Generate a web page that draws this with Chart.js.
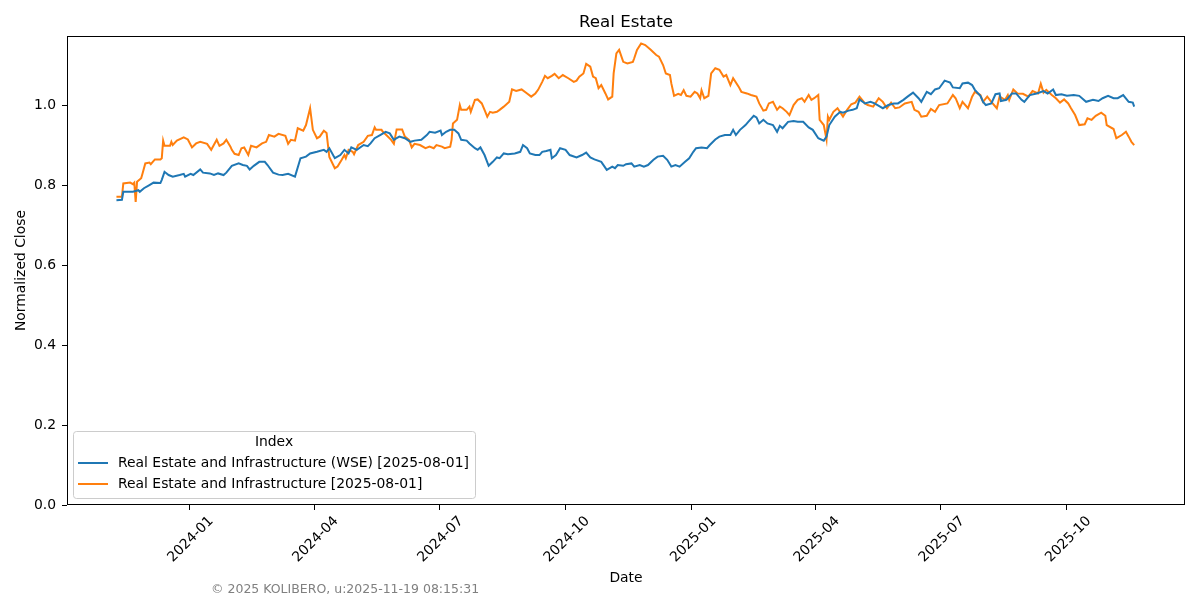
<!DOCTYPE html>
<html lang="en">
<head>
<meta charset="UTF-8">
<title>Real Estate</title>
<script src="https://cdn.jsdelivr.net/npm/chart.js"></script>
<style>
  html, body { margin: 0; padding: 0; background: #fff; }
  canvas { display: block; }
</style>
</head>
<body>
<canvas id="chart" width="1200" height="600"></canvas>
<script>
const wseLabel = 'Real Estate and Infrastructure (WSE) [2025-08-01]';
const reiLabel = 'Real Estate and Infrastructure [2025-08-01]';

const wseDates = [
  '2023-11-09','2023-11-13','2023-11-14','2023-11-21','2023-11-25','2023-11-26','2023-11-29','2023-12-03','2023-12-06','2023-12-11',
  '2023-12-12','2023-12-14','2023-12-17','2023-12-20','2023-12-25','2023-12-28','2023-12-29','2024-01-02','2024-01-04','2024-01-09',
  '2024-01-11','2024-01-16','2024-01-19','2024-01-22','2024-01-26','2024-01-28','2024-02-01','2024-02-06','2024-02-09','2024-02-12',
  '2024-02-14','2024-02-17','2024-02-21','2024-02-25','2024-02-27','2024-03-02','2024-03-06','2024-03-09','2024-03-13','2024-03-18',
  '2024-03-22','2024-03-26','2024-03-29','2024-04-03','2024-04-08','2024-04-10','2024-04-12','2024-04-16','2024-04-20','2024-04-23',
  '2024-04-26','2024-04-28','2024-05-02','2024-05-07','2024-05-10','2024-05-12','2024-05-15','2024-05-19','2024-05-23','2024-05-26',
  '2024-05-29','2024-05-31','2024-06-02','2024-06-06','2024-06-10','2024-06-13','2024-06-18','2024-06-22','2024-06-24','2024-06-28',
  '2024-07-02','2024-07-03','2024-07-06','2024-07-09','2024-07-12','2024-07-15','2024-07-17','2024-07-21','2024-07-23','2024-07-27',
  '2024-07-29','2024-07-31','2024-08-03','2024-08-06','2024-08-09','2024-08-12','2024-08-14','2024-08-17','2024-08-20','2024-08-25',
  '2024-08-29','2024-08-31','2024-09-03','2024-09-05','2024-09-09','2024-09-12','2024-09-14','2024-09-17','2024-09-20','2024-09-21',
  '2024-09-24','2024-09-27','2024-10-01','2024-10-04','2024-10-09','2024-10-13','2024-10-16','2024-10-19','2024-10-22','2024-10-27',
  '2024-10-31','2024-11-04','2024-11-06','2024-11-08','2024-11-12','2024-11-14','2024-11-18','2024-11-20','2024-11-24','2024-11-27',
  '2024-11-30','2024-12-04','2024-12-07','2024-12-11','2024-12-14','2024-12-17','2024-12-20','2024-12-23','2024-12-27','2024-12-30',
  '2025-01-02','2025-01-04','2025-01-08','2025-01-12','2025-01-14','2025-01-18','2025-01-21','2025-01-25','2025-01-29','2025-01-31',
  '2025-02-02','2025-02-05','2025-02-09','2025-02-11','2025-02-15','2025-02-17','2025-02-19','2025-02-22','2025-02-25','2025-03-01',
  '2025-03-04','2025-03-06','2025-03-08','2025-03-12','2025-03-16','2025-03-19','2025-03-23','2025-03-27','2025-03-30','2025-04-03',
  '2025-04-07','2025-04-09','2025-04-11','2025-04-15','2025-04-19','2025-04-21','2025-04-25','2025-04-28','2025-05-01','2025-05-03',
  '2025-05-07','2025-05-11','2025-05-14','2025-05-18','2025-05-20','2025-05-24','2025-05-28','2025-05-31','2025-06-04','2025-06-07',
  '2025-06-11','2025-06-15','2025-06-17','2025-06-21','2025-06-24','2025-06-27','2025-06-30','2025-07-04','2025-07-08','2025-07-10',
  '2025-07-15','2025-07-17','2025-07-21','2025-07-24','2025-07-26','2025-07-30','2025-08-01','2025-08-03','2025-08-07','2025-08-10',
  '2025-08-13','2025-08-14','2025-08-18','2025-08-22','2025-08-25','2025-08-29','2025-08-31','2025-09-04','2025-09-09','2025-09-14',
  '2025-09-17','2025-09-21','2025-09-23','2025-09-27','2025-10-01','2025-10-06','2025-10-10','2025-10-15','2025-10-20','2025-10-24',
  '2025-10-27','2025-10-31','2025-11-04','2025-11-07','2025-11-11','2025-11-15','2025-11-18','2025-11-19'
];
const wseValues = [
  0.762,0.763,0.783,0.783,0.787,0.783,0.792,0.800,0.806,0.805,
  0.813,0.833,0.825,0.821,0.825,0.828,0.821,0.828,0.825,0.839,
  0.831,0.829,0.825,0.829,0.825,0.831,0.848,0.854,0.850,0.848,
  0.839,0.848,0.858,0.858,0.850,0.831,0.826,0.825,0.828,0.821,
  0.867,0.871,0.879,0.883,0.888,0.883,0.892,0.867,0.875,0.888,
  0.879,0.894,0.888,0.900,0.897,0.904,0.917,0.925,0.933,0.929,
  0.913,0.917,0.921,0.917,0.908,0.911,0.913,0.925,0.933,0.931,
  0.936,0.925,0.933,0.938,0.938,0.929,0.913,0.911,0.904,0.892,
  0.888,0.894,0.875,0.848,0.858,0.869,0.867,0.879,0.877,0.879,
  0.883,0.900,0.892,0.879,0.875,0.875,0.883,0.885,0.888,0.867,
  0.875,0.892,0.888,0.875,0.869,0.875,0.881,0.869,0.864,0.858,
  0.838,0.846,0.842,0.850,0.848,0.852,0.854,0.846,0.850,0.846,
  0.850,0.863,0.871,0.873,0.863,0.846,0.850,0.846,0.858,0.867,
  0.883,0.892,0.894,0.892,0.900,0.914,0.921,0.925,0.925,0.938,
  0.925,0.938,0.950,0.958,0.973,0.969,0.954,0.963,0.954,0.950,
  0.933,0.948,0.942,0.958,0.960,0.958,0.958,0.944,0.938,0.917,
  0.911,0.921,0.950,0.971,0.983,0.981,0.986,0.988,0.992,1.014,
  1.004,1.008,1.004,0.996,0.992,1.000,1.004,1.004,1.013,1.021,
  1.031,1.017,1.008,1.033,1.027,1.039,1.042,1.061,1.056,1.044,
  1.042,1.054,1.056,1.050,1.038,1.023,1.008,1.000,1.004,1.027,
  1.029,1.010,1.013,1.029,1.029,1.013,1.008,1.025,1.029,1.035,
  1.029,1.039,1.025,1.027,1.023,1.025,1.023,1.008,1.013,1.010,
  1.017,1.023,1.017,1.017,1.025,1.008,1.006,0.996
];

const reiDates = [
  '2023-11-09','2023-11-13','2023-11-14','2023-11-19','2023-11-21','2023-11-22','2023-11-23','2023-11-24','2023-11-27','2023-11-28',
  '2023-11-30','2023-12-03','2023-12-04','2023-12-07','2023-12-11','2023-12-12','2023-12-13','2023-12-14','2023-12-18','2023-12-19',
  '2023-12-20','2023-12-23','2023-12-28','2023-12-31','2024-01-03','2024-01-06','2024-01-09','2024-01-14','2024-01-17','2024-01-21',
  '2024-01-23','2024-01-26','2024-01-28','2024-01-31','2024-02-01','2024-02-03','2024-02-06','2024-02-08','2024-02-10','2024-02-13',
  '2024-02-15','2024-02-19','2024-02-23','2024-02-26','2024-02-28','2024-03-03','2024-03-06','2024-03-11','2024-03-13','2024-03-15',
  '2024-03-18','2024-03-20','2024-03-24','2024-03-26','2024-03-29','2024-03-31','2024-04-03','2024-04-05','2024-04-08','2024-04-10',
  '2024-04-12','2024-04-16','2024-04-18','2024-04-21','2024-04-23','2024-04-24','2024-04-26','2024-04-29','2024-04-30','2024-05-03',
  '2024-05-07','2024-05-10','2024-05-13','2024-05-15','2024-05-16','2024-05-20','2024-05-21','2024-05-24','2024-05-27','2024-05-29',
  '2024-05-31','2024-06-04','2024-06-06','2024-06-09','2024-06-11','2024-06-13','2024-06-17','2024-06-21','2024-06-24','2024-06-27',
  '2024-06-29','2024-07-03','2024-07-05','2024-07-09','2024-07-10','2024-07-11','2024-07-14','2024-07-16','2024-07-17','2024-07-21',
  '2024-07-23','2024-07-24','2024-07-27','2024-07-29','2024-08-01','2024-08-03','2024-08-05','2024-08-07','2024-08-09','2024-08-12',
  '2024-08-14','2024-08-17','2024-08-19','2024-08-21','2024-08-23','2024-08-26','2024-08-30','2024-09-03','2024-09-06','2024-09-09',
  '2024-09-11','2024-09-14','2024-09-16','2024-09-18','2024-09-21','2024-09-23','2024-09-26','2024-09-29','2024-10-03','2024-10-07',
  '2024-10-09','2024-10-11','2024-10-14','2024-10-16','2024-10-19','2024-10-21','2024-10-23','2024-10-25','2024-10-27','2024-10-30',
  '2024-11-01','2024-11-04','2024-11-05','2024-11-07','2024-11-09','2024-11-12','2024-11-15','2024-11-19','2024-11-20','2024-11-22',
  '2024-11-25','2024-11-28','2024-12-02','2024-12-06','2024-12-08','2024-12-11','2024-12-13','2024-12-16','2024-12-17','2024-12-19',
  '2024-12-22','2024-12-24','2024-12-26','2024-12-28','2024-12-31','2025-01-03','2025-01-05','2025-01-07','2025-01-08','2025-01-10',
  '2025-01-13','2025-01-15','2025-01-18','2025-01-21','2025-01-24','2025-01-26','2025-01-29','2025-01-31','2025-02-04','2025-02-06',
  '2025-02-10','2025-02-13','2025-02-17','2025-02-19','2025-02-22','2025-02-24','2025-02-26','2025-03-01','2025-03-04','2025-03-06',
  '2025-03-08','2025-03-11','2025-03-13','2025-03-16','2025-03-19','2025-03-22','2025-03-24','2025-03-27','2025-03-29','2025-03-31',
  '2025-04-03','2025-04-04','2025-04-07','2025-04-09','2025-04-10','2025-04-11','2025-04-14','2025-04-17','2025-04-21','2025-04-24',
  '2025-04-27','2025-04-30','2025-05-03','2025-05-07','2025-05-09','2025-05-13','2025-05-17','2025-05-20','2025-05-23','2025-05-26',
  '2025-05-29','2025-06-01','2025-06-05','2025-06-10','2025-06-12','2025-06-15','2025-06-17','2025-06-21','2025-06-24','2025-06-27',
  '2025-06-30','2025-07-06','2025-07-10','2025-07-12','2025-07-15','2025-07-17','2025-07-21','2025-07-24','2025-07-26','2025-07-30',
  '2025-08-01','2025-08-04','2025-08-07','2025-08-11','2025-08-13','2025-08-17','2025-08-19','2025-08-20','2025-08-23','2025-08-26',
  '2025-08-30','2025-09-03','2025-09-06','2025-09-10','2025-09-12','2025-09-14','2025-09-16','2025-09-20','2025-09-23','2025-09-26',
  '2025-09-29','2025-10-02','2025-10-04','2025-10-07','2025-10-10','2025-10-14','2025-10-16','2025-10-19','2025-10-22','2025-10-26',
  '2025-10-29','2025-10-30','2025-11-04','2025-11-06','2025-11-10','2025-11-13','2025-11-15','2025-11-17','2025-11-19'
];
const reiValues = [
  0.771,0.771,0.804,0.806,0.802,0.806,0.758,0.808,0.817,0.829,
  0.854,0.856,0.852,0.864,0.864,0.867,0.911,0.898,0.898,0.908,
  0.900,0.911,0.919,0.914,0.894,0.904,0.908,0.903,0.888,0.913,
  0.898,0.904,0.913,0.896,0.888,0.878,0.875,0.892,0.894,0.875,
  0.898,0.894,0.904,0.908,0.925,0.921,0.928,0.923,0.903,0.913,
  0.911,0.942,0.936,0.950,0.992,0.938,0.917,0.921,0.936,0.930,
  0.870,0.842,0.846,0.863,0.875,0.867,0.888,0.883,0.877,0.900,
  0.908,0.923,0.925,0.944,0.938,0.938,0.933,0.923,0.913,0.903,
  0.939,0.939,0.921,0.913,0.894,0.903,0.900,0.892,0.896,0.892,
  0.900,0.896,0.892,0.896,0.913,0.954,0.963,1.000,0.988,0.988,
  0.996,0.983,1.013,1.014,1.004,0.988,0.971,0.983,0.981,0.983,
  0.988,0.996,1.002,1.008,1.039,1.035,1.039,1.029,1.021,1.029,
  1.038,1.058,1.073,1.067,1.073,1.078,1.067,1.075,1.067,1.058,
  1.061,1.071,1.079,1.103,1.096,1.071,1.067,1.042,1.050,1.029,
  1.014,1.021,1.079,1.129,1.138,1.108,1.104,1.108,1.117,1.138,
  1.154,1.150,1.138,1.125,1.121,1.100,1.079,1.075,1.054,1.023,
  1.028,1.025,1.037,1.023,1.021,1.033,1.029,1.017,1.037,1.017,
  1.023,1.079,1.092,1.088,1.071,1.075,1.050,1.067,1.046,1.033,
  1.029,1.025,1.021,1.004,0.986,0.988,1.004,1.008,0.988,0.996,
  0.992,0.983,0.975,1.000,1.013,1.017,1.008,1.025,1.013,1.017,
  1.025,0.963,0.950,0.914,0.971,0.963,0.983,0.992,0.971,0.988,
  1.002,1.006,1.021,1.004,1.000,0.996,1.017,1.008,0.992,1.006,
  0.992,0.994,1.004,1.008,0.988,0.983,0.971,0.973,0.990,0.983,
  1.000,1.004,1.025,1.017,0.992,1.008,0.992,1.021,1.033,1.025,
  1.008,1.021,1.008,0.992,1.021,1.013,1.025,1.013,1.039,1.029,
  1.028,1.021,1.035,1.029,1.053,1.031,1.038,1.025,1.017,1.006,
  1.014,1.004,0.992,0.975,0.950,0.952,0.967,0.963,0.973,0.981,
  0.973,0.950,0.940,0.917,0.925,0.933,0.921,0.908,0.900
];

const xTickLabels = ['2024-01','2024-04','2024-07','2024-10','2025-01','2025-04','2025-07','2025-10'];
const yTickValues = [0, 0.2, 0.4, 0.6, 0.8, 1.0];
const footerText = '\u00a9 2025 KOLIBERO, u:2025-11-19 08:15:31';

const toPoints = (dates, values) => dates.map((d, i) => ({ x: Date.parse(d), y: values[i] }));

const FONT = 'DejaVu Sans';
Chart.defaults.font.family = FONT;
Chart.defaults.color = '#000';

// frame on all four sides + footer + matplotlib style legend box
const extras = {
  id: 'extras',
  afterDatasetsDraw(chart) {
    const { ctx, chartArea: a } = chart;
    ctx.save();
    ctx.strokeStyle = '#000';
    ctx.lineWidth = 1;
    ctx.strokeRect(Math.round(a.left) + 0.5, Math.round(a.top) + 0.5,
      Math.round(a.right - a.left) - 1, Math.round(a.bottom - a.top) - 1);
    ctx.restore();
  },
  afterDraw(chart) {
    const { ctx, chartArea: a } = chart;
    ctx.save();
    // legend
    const lx = a.left + 6, ly = a.bottom - 74, lw = 402, lh = 67;
    ctx.beginPath();
    ctx.roundRect(lx + 0.5, ly + 0.5, lw, lh, 3);
    ctx.fillStyle = 'rgba(255,255,255,0.8)';
    ctx.fill();
    ctx.strokeStyle = '#cccccc';
    ctx.lineWidth = 1;
    ctx.stroke();
    ctx.font = '13.9px "' + FONT + '"';
    ctx.fillStyle = '#000';
    ctx.textBaseline = 'middle';
    ctx.textAlign = 'center';
    ctx.fillText('Index', lx + lw / 2, ly + 11.5);
    ctx.textAlign = 'left';
    chart.data.datasets.forEach((ds, i) => {
      const yy = ly + 32 + i * 21;
      ctx.beginPath();
      ctx.moveTo(lx + 5, yy);
      ctx.lineTo(lx + 35, yy);
      ctx.strokeStyle = ds.borderColor;
      ctx.lineWidth = 2;
      ctx.stroke();
      ctx.fillText(ds.label, lx + 45, yy);
    });
    // footer
    ctx.font = '12.5px "' + FONT + '"';
    ctx.fillStyle = '#808080';
    ctx.fillText(footerText, 211, 590);
    ctx.restore();
  }
};

new Chart(document.getElementById('chart'), {
  type: 'line',
  data: {
    datasets: [
      {
        label: wseLabel,
        data: toPoints(wseDates, wseValues),
        borderColor: '#1f77b4',
        backgroundColor: '#1f77b4',
        borderWidth: 2,
        pointRadius: 0,
        tension: 0
      },
      {
        label: reiLabel,
        data: toPoints(reiDates, reiValues),
        borderColor: '#ff7f0e',
        backgroundColor: '#ff7f0e',
        borderWidth: 2,
        pointRadius: 0,
        tension: 0
      }
    ]
  },
  options: {
    responsive: false,
    animation: false,
    devicePixelRatio: 1,
    layout: { padding: { left: 0, right: 15, top: 0, bottom: 0 } },
    plugins: {
      legend: { display: false },
      tooltip: { enabled: false },
      title: {
        display: true,
        text: 'Real Estate',
        fullSize: false,
        color: '#000',
        font: { size: 16.7, weight: 'normal' },
        padding: { top: 13, bottom: 3 }
      }
    },
    scales: {
      x: {
        type: 'linear',
        min: Date.parse('2023-10-04'),
        max: Date.parse('2025-12-26'),
        afterFit: s => { s.height = 95; },
        afterBuildTicks: s => { s.ticks = xTickLabels.map(l => ({ value: Date.parse(l + '-01') })); },
        grid: { drawOnChartArea: false, drawTicks: true, tickLength: 5, color: '#000' },
        border: { display: false },
        ticks: {
          autoSkip: false,
          minRotation: 45,
          maxRotation: 45,
          labelOffset: 22,
          padding: 3,
          font: { size: 13.9 },
          callback: (v, i) => xTickLabels[i]
        },
        title: { display: true, text: 'Date', font: { size: 13.9 }, padding: { top: 0, bottom: 13 } }
      },
      y: {
        type: 'linear',
        min: 0,
        max: 1.1725,
        afterFit: s => { s.width = 67; },
        afterBuildTicks: s => { s.ticks = yTickValues.map(v => ({ value: v })); },
        grid: { drawOnChartArea: false, drawTicks: true, tickLength: 5, color: '#000' },
        border: { display: false },
        ticks: {
          padding: 6,
          font: { size: 13.9 },
          callback: v => v.toFixed(1)
        },
        title: { display: true, text: 'Normalized Close', font: { size: 13.9 }, padding: { top: 13, bottom: 0 } }
      }
    }
  },
  plugins: [extras]
});
</script>
</body>
</html>
